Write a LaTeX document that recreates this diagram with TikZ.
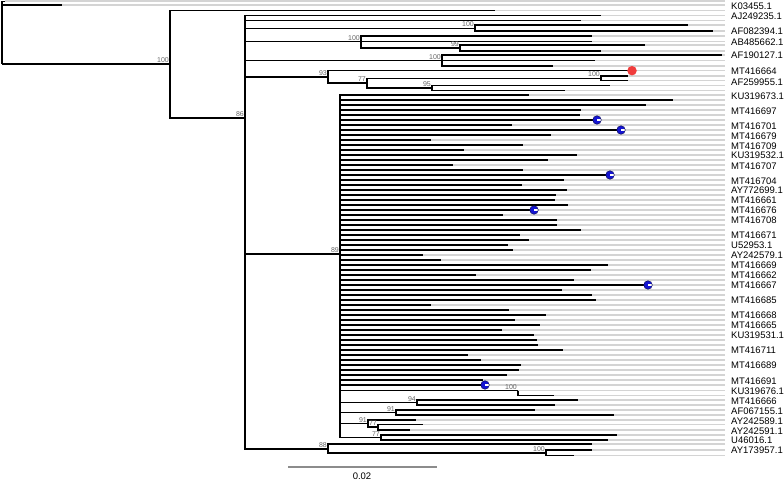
\documentclass[tikz,border=0pt]{standalone}
\usepackage{fontspec}
\setmainfont{Liberation Sans}
\usetikzlibrary{calc}
\definecolor{reddot}{RGB}{240,60,60}
\definecolor{bluedot}{RGB}{20,20,210}
\definecolor{navy}{RGB}{10,10,90}
\begin{document}
\begin{tikzpicture}[x=1pt,y=-1pt,
  br/.style={line width=1.35pt,black},
  gl/.style={line width=1.4pt,black!17},
  bs/.style={font=\fontsize{7}{8}\selectfont,text=black!60,anchor=south east,inner sep=0pt,xshift=-1pt,yshift=1.2pt},
  lab/.style={font=\fontsize{9.5}{10}\selectfont,anchor=west,inner sep=0pt},
  rdot/.style={circle,fill=reddot,minimum size=9.5pt,inner sep=0pt},
  bdot/.style={circle,fill=bluedot,draw=navy,line width=0.5pt,minimum size=8.5pt,inner sep=0pt,
    path picture={\fill[white] ($(path picture bounding box.center)+(0.2,-1.1)$) rectangle ($(path picture bounding box.east)+(0,1.1)$);}},
  ]
\useasboundingbox (0,0) rectangle (784,481);
\coordinate (gend) at (725,0);
% internal nodes (x of node, y of incoming connection)
\coordinate (root) at (2,64);
\coordinate (A) at (170,64);
\coordinate (B) at (245,118);
\coordinate (C) at (475,28.3);
\coordinate (D) at (361,41.7);
\coordinate (E) at (460,48);
\coordinate (F) at (442,60.5);
\coordinate (G) at (328,77);
\coordinate (H) at (367,83);
\coordinate (I) at (601,78.3);
\coordinate (J) at (432,88);
\coordinate (P) at (340,254);
\coordinate (Q) at (518,390.5);
\coordinate (R) at (417,402.5);
\coordinate (S) at (396,412.5);
\coordinate (T) at (368,423.5);
\coordinate (U) at (378,427);
\coordinate (V) at (381,437.5);
\coordinate (W) at (328,449);
\coordinate (X) at (546,453);
% leaves
\coordinate (r0) at (5,1.2);
\coordinate (r1) at (62,5);
\coordinate (a1) at (495,10.7);
\coordinate (b1) at (601,15.7);
\coordinate (b2) at (581,20.7);
\coordinate (c1) at (688,25);
\coordinate (c2) at (713,31);
\coordinate (d1) at (592,36);
\coordinate (d2) at (592,41.7);
\coordinate (e1) at (645,45);
\coordinate (e2) at (601,51);
\coordinate (f1) at (722,55);
\coordinate (f2) at (595,60.5);
\coordinate (f3) at (553,66);
\coordinate (g1) at (632,70.7);
\coordinate (i1) at (628,76);
\coordinate (i2) at (628,80.5);
\coordinate (j1) at (610,85.3);
\coordinate (j2) at (565,90.7);
\coordinate (q1) at (518,390.5);
\coordinate (q2) at (554,395.5);
\coordinate (s1) at (578,400);
\coordinate (s2) at (555,405);
\coordinate (t1) at (535,410);
\coordinate (t2) at (614,415);
\coordinate (u0) at (416,420);
\coordinate (u1) at (423,424.5);
\coordinate (u2) at (410,430);
\coordinate (v1) at (617,435);
\coordinate (v2) at (608,440);
\coordinate (w1) at (592,444);
\coordinate (x1) at (592,450);
\coordinate (x2) at (574,455.7);
% gray guide lines
\foreach \n in {r0,r1,a1,b1,b2,c1,c2,d1,d2,e1,e2,f1,f2,f3,g1,i1,i2,j1,j2,q1,q2,s1,s2,t1,t2,u0,u1,u2,v1,v2,w1,x1,x2}
  {\draw[gl] (\n) -- (\n -| gend);}
% polytomy leaves
\foreach \yy/\xx [count=\i] in {95/529,100/673,105/646,110/581,115/580,120/597,125/512,130/621,135/551,140/431,
  145/523,150/464,155/577,160/548,165/453,170/523,175/610,180/564,185/522,190/567,195/556,200/555,205/568,
  210/534,215/503,220/557,225/557,230/581,235/520,240/529,245/508,250/513,255/423,260/441,265/608,270/591,
  275/476,280/574,285/648,290/562,295/592,300/596,305/431,310/509,315/546,320/515,325/540,330/502,335/534,
  340/537,345/538,350/563,355/468,360/481,365/521,370/519,375/507,380/483,385/485}
  {\coordinate (p\i) at (\xx,\yy);
   \draw[gl] (p\i) -- (p\i -| gend);
   \draw[br] (P) |- (p\i);}
% branches
\draw[br] (root) |- (r0);
\draw[br] (root) |- (r1);
\draw[br] (root) -- (A);
\draw[br] (A) |- (a1);
\draw[br] (A) |- (B);
\draw[br] (B) |- (b1);
\draw[br] (B) |- (b2);
\draw[br] (B) |- (C);
\draw[br] (C) |- (c1);
\draw[br] (C) |- (c2);
\draw[br] (B) |- (D);
\draw[br] (D) |- (d1);
\draw[br] (D) |- (d2);
\draw[br] (D) |- (E);
\draw[br] (E) |- (e1);
\draw[br] (E) |- (e2);
\draw[br] (B) |- (F);
\draw[br] (F) |- (f1);
\draw[br] (F) |- (f2);
\draw[br] (F) |- (f3);
\draw[br] (B) |- (G);
\draw[br] (G) |- (g1);
\draw[br] (G) |- (H);
\draw[br] (H) |- (I);
\draw[br] (I) |- (i1);
\draw[br] (I) |- (i2);
\draw[br] (H) |- (J);
\draw[br] (J) |- (j1);
\draw[br] (J) |- (j2);
\draw[br] (B) |- (P);
\draw[br] (P) |- (Q);
\draw[br] (Q) |- (q2);
\draw[br] (P) |- (R);
\draw[br] (R) |- (s1);
\draw[br] (R) |- (s2);
\draw[br] (P) |- (S);
\draw[br] (S) |- (t1);
\draw[br] (S) |- (t2);
\draw[br] (P) |- (T);
\draw[br] (T) |- (u0);
\draw[br] (T) |- (U);
\draw[br] (U) |- (u1);
\draw[br] (U) |- (u2);
\draw[br] (P) |- (V);
\draw[br] (V) |- (v1);
\draw[br] (V) |- (v2);
\draw[br] (B) |- (W);
\draw[br] (W) |- (w1);
\draw[br] (W) |- (X);
\draw[br] (X) |- (x1);
\draw[br] (X) |- (x2);
% markers
\node[rdot] (m0) at (g1) {};
\node[bdot] (m1) at (p6) {};
\node[bdot] (m2) at (p8) {};
\node[bdot] (m3) at (p17) {};
\node[bdot] (m4) at (p24) {};
\node[bdot] (m5) at (p39) {};
\node[bdot] (m6) at (p59) {};
% bootstrap values
\node[bs] (bA) at (A) {100};
\node[bs] (bB) at (B) {86};
\node[bs] (bC) at (C) {100};
\node[bs] (bD) at (D) {100};
\node[bs] (bE) at (E) {99};
\node[bs] (bF) at (F) {100};
\node[bs] (bG) at (G) {93};
\node[bs] (bH) at (H) {77};
\node[bs] (bI) at (I) {100};
\node[bs] (bJ) at (J) {95};
\node[bs] (bP) at (P) {89};
\node[bs] (bQ) at (Q) {100};
\node[bs] (bR) at (R) {94};
\node[bs] (bS) at (S) {91};
\node[bs] (bT) at (T) {91};
\node[bs] (bU) at (U) {77};
\node[bs] (bV) at (V) {77};
\node[bs] (bW) at (W) {88};
\node[bs] (bX) at (X) {100};
% leaf labels
\foreach \yy/\txt [count=\i] in {6/K03455.1,16/AJ249235.1,31.7/AF082394.1,42.3/AB485662.1,55/AF190127.1,
  71/MT416664,82/AF259955.1,96.3/KU319673.1,111.5/MT416697,126/MT416701,136/MT416679,146/MT416709,
  155.5/KU319532.1,166/MT416707,181/MT416704,190.7/AY772699.1,200.7/MT416661,210.7/MT416676,220.7/MT416708,
  235.7/MT416671,245.7/U52953.1,255/AY242579.1,265/MT416669,275/MT416662,285/MT416667,300.7/MT416685,
  315.7/MT416668,325.7/MT416665,335.7/KU319531.1,350.7/MT416711,365.7/MT416689,381.7/MT416691,
  391.7/KU319676.1,401.7/MT416666,411.7/AF067155.1,421.7/AY242589.1,431.7/AY242591.1,440/U46016.1,450/AY173957.1}
  {\node[lab] (L\i) at (731,\yy) {\txt};}
% scale bar
\coordinate (sb1) at (288,467);
\coordinate (sb2) at (437,467);
\draw[line width=1.2pt,black!45] (sb1) -- (sb2);
\node[font=\fontsize{9.5}{10}\selectfont,inner sep=0pt] (sbl) at (362,476) {0.02};
\end{tikzpicture}
\end{document}
